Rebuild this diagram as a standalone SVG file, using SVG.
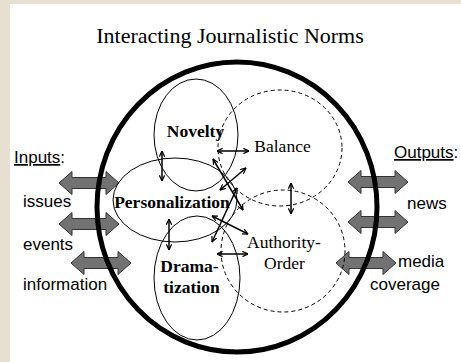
<svg xmlns="http://www.w3.org/2000/svg" width="461" height="362" viewBox="0 0 461 362">
<style>
.serif{font-family:"Liberation Serif","Times New Roman",serif;fill:#000}
.sans{font-family:"Liberation Sans",Arial,sans-serif;fill:#000;font-size:17px}
.norm{fill:none;stroke:#000;stroke-width:1}
.dash{stroke-dasharray:4,3}
.conn{fill:none;stroke:#000;stroke-width:1.5;marker-start:url(#ah);marker-end:url(#ah)}
.block{fill:#727272;stroke:#333;stroke-width:1}
</style>
<defs>
<marker id="ah" viewBox="0 0 8 8" refX="7.5" refY="4" markerWidth="6" markerHeight="6" markerUnits="userSpaceOnUse" orient="auto-start-reverse">
<path d="M0,0.5 L7.5,4 L0,7.5" fill="none" stroke="#000" stroke-width="1.6"/>
</marker>
<path id="blk" d="M0,0 L13,-11.5 L13,-5.5 L47,-5.5 L47,-11.5 L60,0 L47,11.5 L47,5.5 L13,5.5 L13,11.5 Z"/>
</defs>
<rect x="0" y="0" width="461" height="362" fill="#e7e0d1"/>
<rect x="10" y="4" width="451" height="358" fill="#fff"/>
<text class="serif" x="230" y="43" font-size="22" text-anchor="middle">Interacting Journalistic Norms</text>
<g id="flows">
<use href="#blk" class="block" transform="translate(59,183)"/>
<use href="#blk" class="block" transform="translate(59,224)"/>
<use href="#blk" class="block" transform="translate(71,263)"/>
<use href="#blk" class="block" transform="translate(348,182)"/>
<use href="#blk" class="block" transform="translate(348,222)"/>
<use href="#blk" class="block" transform="translate(336,263)"/>
</g>
<g id="system">
<ellipse cx="237" cy="207" rx="140" ry="145" fill="none" stroke="#000" stroke-width="5"/>
</g>
<g id="inputs">
<text class="sans" x="14" y="163"><tspan text-decoration="underline">Inputs</tspan>:</text>
<text class="sans" x="23" y="207">issues</text>
<text class="sans" x="23" y="250">events</text>
<text class="sans" x="23" y="290">information</text>
</g>
<g id="outputs">
<text class="sans" x="394" y="158"><tspan text-decoration="underline">Outputs</tspan>:</text>
<text class="sans" x="407" y="209">news</text>
<text class="sans" x="398" y="267">media</text>
<text class="sans" x="370" y="290">coverage</text>
</g>
<g id="novelty">
<ellipse class="norm" cx="196" cy="135" rx="42" ry="56"/>
<text class="serif" x="195.5" y="137" font-size="17.5" font-weight="bold" text-anchor="middle">Novelty</text>
</g>
<g id="balance">
<ellipse class="norm dash" cx="280" cy="148" rx="62" ry="58"/>
<text class="serif" x="282.5" y="152" font-size="17.5" text-anchor="middle">Balance</text>
</g>
<g id="personalization">
<ellipse class="norm" cx="175" cy="200" rx="62" ry="42"/>
<text class="serif" x="172" y="208" font-size="17.5" font-weight="bold" text-anchor="middle">Personalization</text>
</g>
<g id="dramatization">
<ellipse class="norm" cx="197" cy="278" rx="43" ry="62"/>
<text class="serif" x="189.5" y="272" font-size="17.5" font-weight="bold" text-anchor="middle">Drama-</text>
<text class="serif" x="191.5" y="293" font-size="17.5" font-weight="bold" text-anchor="middle">tization</text>
</g>
<g id="authority">
<ellipse class="norm dash" cx="283" cy="251" rx="62" ry="61"/>
<text class="serif" x="284" y="248" font-size="17.5" text-anchor="middle">Authority-</text>
<text class="serif" x="284.5" y="269" font-size="17.5" text-anchor="middle">Order</text>
</g>
<g id="connectors">
<line class="conn" x1="162" y1="151" x2="162" y2="181"/>
<line class="conn" x1="169" y1="219" x2="169" y2="250"/>
<line class="conn" x1="217" y1="151" x2="249" y2="151"/>
<line class="conn" x1="291" y1="183" x2="291" y2="214"/>
<line class="conn" x1="217" y1="254" x2="248" y2="254"/>
<line class="conn" x1="220" y1="190" x2="246" y2="168"/>
<line class="conn" x1="213" y1="159" x2="243" y2="210"/>
<line class="conn" x1="212" y1="216" x2="248" y2="234"/>
<line class="conn" x1="237" y1="188" x2="212" y2="242"/>
</g>
</svg>
